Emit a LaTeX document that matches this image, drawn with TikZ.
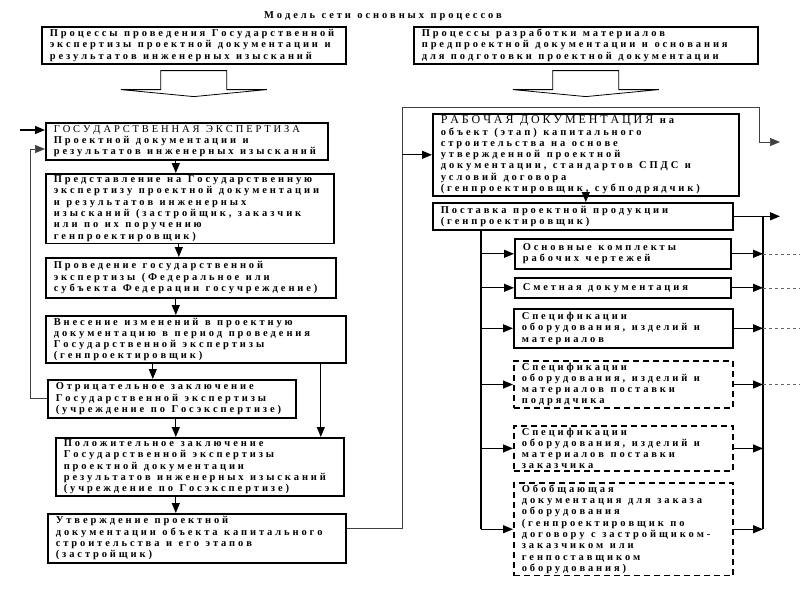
\documentclass[tikz,border=0pt]{standalone}
\usepackage{fontspec}
\setmainfont{Liberation Serif}
\usetikzlibrary{arrows.meta, positioning}

% letter spacing between Cyrillic letters
\newcount\cc
\cc="0400 \loop\ifnum\cc<"0460 \XeTeXcharclass\cc=1 \advance\cc by 1 \repeat
\XeTeXcharclass`\(=1 \XeTeXcharclass`\)=1 \XeTeXcharclass`\,=1 \XeTeXcharclass`\-=1
\XeTeXinterchartoks 1 1 = {\kern2.9pt}
\newcommand\wide{\XeTeXinterchartokenstate=1 \spaceskip=6.5pt\relax \xspaceskip=6.5pt\relax}
\newcommand\boxfont{\bfseries\fontsize{10.5}{11.3}\selectfont\wide}
\newcommand\lightcaps{\mdseries\fontsize{10.5}{11.3}\selectfont\wide}

\tikzset{
    box/.style={draw, line width=1.6pt, anchor=north west, align=flush left,
        inner xsep=4pt, inner ysep=2pt, font=\boxfont,
        execute at begin node={\leftskip=4pt\relax}},
    dbox/.style={box, dash pattern=on 6pt off 4pt},
    arr/.style={line width=1.2pt, -{Triangle[length=10pt, width=8pt]}},
    thinarr/.style={line width=.7pt, draw=black!75, -{Triangle[length=10pt, width=8pt]}},
    bus/.style={line width=2pt},
}

\begin{document}
\begin{tikzpicture}[x=1pt, y=-1pt]
                \useasboundingbox (0,0) rectangle (800,600);
                \node[font=\bfseries\fontsize{10.5}{11}\selectfont\wide] (title) at (383,16) {Модель сети основных процессов};

                \node[box, text width=296, minimum height=37] (proc1) at (41,26)
                    {Процессы проведения Государственной\\ экспертизы проектной документации и\\ результатов инженерных изысканий};
                \node[box, text width=336, minimum height=37] (proc2) at (413,26)
                    {Процессы разработки материалов\\ предпроектной документации и основания\\ для подготовки проектной документации};

                \foreach \p in {proc1, proc2}
                \draw[line width=.8pt] (\p.south) ++(-33,6) -- ++(66,0) -- ++(0,19) -- ++(40,0)
                    -- ++(-73,7) -- ++(-73,-7) -- ++(40,0) -- cycle;

                % left column
                \node[box, text width=274, minimum height=37] (gos) at (45,122)
                    {{\lightcaps ГОСУДАРСТВЕННАЯ ЭКСПЕРТИЗА}\\ Проектной документации и\\ результатов инженерных изысканий};
                \node[box, text width=280, minimum height=66] (pred) at (45,173)
                    {Представление на Государственную\\ экспертизу проектной документации\\ и результатов инженерных\\ изысканий (застройщик, заказчик\\ или по их поручению\\ генпроектировщик)};
                \node[box, text width=282, minimum height=40] (prov) at (45,257)
                    {Проведение государственной\\ экспертизы (Федеральное или\\ субъекта Федерации госучреждение)};
                \node[box, text width=292, minimum height=45] (vnes) at (45,315)
                    {Внесение изменений в проектную\\ документацию в период проведения\\ Государственной экспертизы\\ (генпроектировщик)};
                \node[box, text width=240, minimum height=38] (otr) at (47,379)
                    {Отрицательное заключение\\ Государственной экспертизы\\ (учреждение по Госэкспертизе)};
                \node[box, text width=280, minimum height=56] (pol) at (55,437)
                    {Положительное заключение\\ Государственной экспертизы\\ проектной документации\\ результатов инженерных изысканий\\ (учреждение по Госэкспертизе)};
                \node[box, text width=290, minimum height=49] (utv) at (47,513)
                    {Утверждение проектной\\ документации объекта капитального\\ строительства и его этапов\\ (застройщик)};

                \foreach \a/\b/\s in {gos/pred/-11, pred/prov/-11, prov/vnes/-15, vnes/otr/-43, vnes/pol/125, otr/pol/4, pol/utv/-24}
                \draw[arr] ([xshift=\s pt]\a.south) -- ([xshift=\s pt]\a.south |- \b.north);

                \coordinate (back) at (30,149);
                \coordinate (in) at (20,130);
                \draw[thinarr] (otr.west) -| (back) -- (back -| gos.west);
                \draw[arr] (in) -- (in -| gos.west);

                % right column
                \node[box, text width=298, minimum height=82] (rab) at (432,113)
                    {{\mdseries\fontsize{12}{11.3}\selectfont\wide РАБОЧАЯ ДОКУМЕНТАЦИЯ} на\\ объект (этап) капитального\\ строительства на основе\\ утвержденной проектной\\ документации, стандартов СПДС и\\ условий договора\\ (генпроектировщик, субподрядчик)};
                \node[box, text width=292, minimum height=27] (post) at (432,202)
                    {Поставка проектной продукции\\ (генпроектировщик)};

                \node[box, text width=208, minimum height=30] (s1) at (514,238)
                    {Основные комплекты\\ рабочих чертежей};
                \node[box, text width=208, minimum height=20] (s2) at (514,277)
                    {Сметная документация};
                \node[box, text width=211, minimum height=39] (s3) at (513,308)
                    {Спецификации\\ оборудования, изделий и\\ материалов};
                \node[dbox, text width=211, minimum height=45] (s4) at (513,360)
                    {Спецификации\\ оборудования, изделий и\\ материалов поставки\\ подрядчика};
                \node[dbox, text width=211, minimum height=45] (s5) at (513,425)
                    {Спецификации\\ оборудования, изделий и\\ материалов поставки\\ заказчика};
                \node[dbox, text width=211, minimum height=86] (s6) at (513,482)
                    {Обобщающая\\ документация для заказа\\ оборудования\\ (генпроектировщик по\\ договору с застройщиком-\\ заказчиком или\\ генпоставщиком\\ оборудования)};

                \coordinate (loop) at (402,107);
                \coordinate (out) at (780,142);
                \coordinate (lb) at (481,0);
                \coordinate (rb) at (763,0);
                \coordinate (edge) at (800,0);

                \draw[thinarr] ([yshift=10pt]utv.east) -| (loop) -| ([xshift=-21pt]out) -- (out);
                \draw[arr] (loop |- rab.west) -- (rab.west);
                \draw[arr] (rab.south) -- (rab.south |- post.north);
                \draw[arr] (post.east) -- (post.east -| out);
                \draw[bus] (lb |- post.south) -- (lb |- s6.west);
                \draw[bus] (rb |- post.east) -- (rb |- s6.west);

                \foreach \s in {s1, s2, s3, s4, s5, s6} {
                    \draw[arr] (lb |- \s.west) -- (\s.west);
                    \draw[arr] (\s.east) -- (rb |- \s.east);
                }
                \foreach \s in {s1, s2, s3, s4}
                \draw[dashed, draw=black!60, line width=.6pt] (rb |- \s.east) -- (edge |- \s.east);
            \end{tikzpicture}
\end{document}
